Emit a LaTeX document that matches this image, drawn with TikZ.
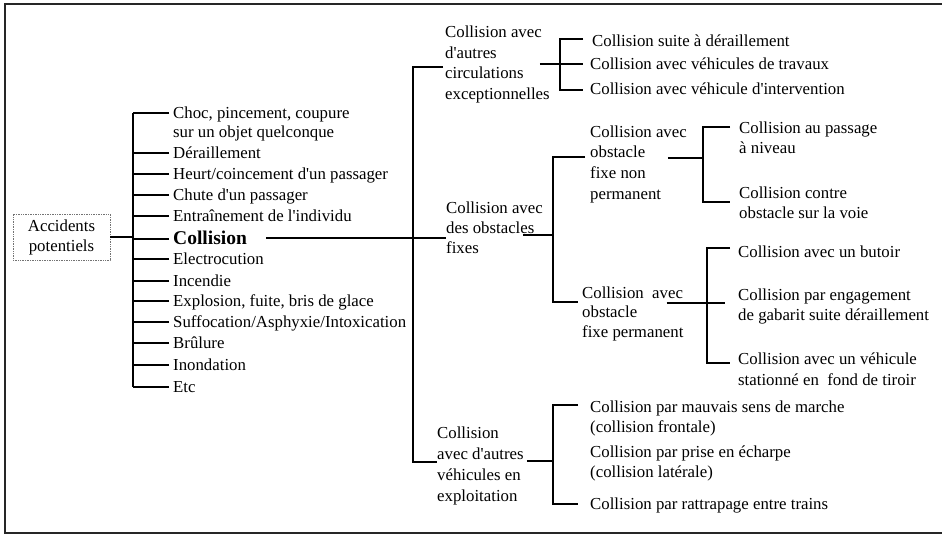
\documentclass[tikz,border=0pt]{standalone}
\usepackage{fontspec}
\setmainfont{Liberation Serif}
\newcommand{\mlines}[1]{\begin{tabular}[t]{@{}l@{}}#1\end{tabular}}
\newcommand{\ap}{\textquotesingle}
\begin{document}
\begin{tikzpicture}[x=1pt,y=-1pt,
  txt/.style={anchor=base west, inner sep=0pt, font=\fontsize{16.8}{20.5}\selectfont},
  sk/.style={font=\fontsize{16.8}{#1}\selectfont},
  tree/.style={line width=1.4pt, draw=black},
  frame/.style={line width=1.3pt, draw=black!85},
  rootbox/.style={draw=black!55, densely dotted, line width=0.7pt, inner sep=0pt,
    minimum width=97pt, minimum height=46pt, font=\fontsize{16.8}{20}\selectfont}
]
\useasboundingbox (0,0) rectangle (942,535);
\draw[frame] (960,4) -- (5,4) -- (5,533) -- (960,533);

% root
\node[rootbox] (acc) at (61.5,237) {\begin{tabular}{@{}c@{}}Accidents\\potentiels\end{tabular}};

% first level list
\node[txt, sk=19] (l1) at (173,118) {\mlines{Choc, pincement, coupure\\sur un objet quelconque}};
\node[txt] (l2) at (173,158) {Déraillement};
\node[txt] (l3) at (173,179) {Heurt/coincement d\ap un passager};
\node[txt] (l4) at (173,200) {Chute d\ap un passager};
\node[txt] (l5) at (173,221) {Entraînement de l\ap individu};
\node[txt, font=\fontsize{19.5}{22}\selectfont\bfseries] (l6) at (173,244) {Collision};
\node[txt] (l7) at (173,264) {Electrocution};
\node[txt] (l8) at (173,286) {Incendie};
\node[txt] (l9) at (173,306) {Explosion, fuite, bris de glace};
\node[txt] (l10) at (173,327) {Suffocation/Asphyxie/Intoxication};
\node[txt] (l11) at (173,348) {Brûlure};
\node[txt] (l12) at (173,370) {Inondation};
\node[txt] (l13) at (173,392) {Etc};

\foreach \i in {1,...,13}
  \draw[tree] ([xshift=-4pt,yshift=5pt]l\i.base west) -- ++(-36,0);
\coordinate (B1) at ([xshift=-40pt,yshift=5pt]l1.base west);
\draw[tree] (B1) -- ([xshift=-40pt,yshift=5pt]l13.base west);
\draw[tree] (acc.east) -- (acc.east -| B1);

% second level
\node[txt, sk=20.4] (ct) at (445,38) {\mlines{Collision avec\\d\ap autres\\circulations\\exceptionnelles}};
\node[txt, sk=20] (obs) at (446,213) {\mlines{Collision avec\\des obstacles\\fixes}};
\node[txt, sk=21.3] (cv) at (437,438) {\mlines{Collision\\avec d\ap autres\\véhicules en\\exploitation}};

\coordinate (c6) at ([yshift=6pt]l6.base east);
\draw[tree] ([xshift=19pt]c6) -- (c6 -| obs.west);
\coordinate (B2) at (413,238);
\draw[tree] ([xshift=-2pt,yshift=-29pt]ct.base west) -| (B2) |- ([yshift=-24pt]cv.base west);

% circulations exceptionnelles
\node[txt] (r1) at (592,47) {Collision suite à déraillement};
\node[txt] (r2) at (590,70) {Collision avec véhicules de travaux};
\node[txt] (r3) at (590,94) {Collision avec véhicule d\ap intervention};
\coordinate (B3) at (560,64);
\coordinate (r2t) at ([xshift=-7pt]r2.base west);
\draw[tree] ([xshift=-9pt,yshift=8pt]r1.base west) -| (B3) |- ([xshift=-7pt,yshift=4pt]r3.base west);
\draw[tree] (ct.east |- B3) ++(-10,0) -- (r2t |- B3);

% obstacles fixes
\node[txt, sk=20.7] (np) at (590,137) {\mlines{Collision avec\\obstacle\\fixe non\\permanent}};
\node[txt, sk=19.6] (pm) at (582,298) {\mlines{Collision~ avec\\obstacle\\fixe permanent}};
\coordinate (B4) at (553,235);
\draw[tree] ([xshift=-5pt,yshift=-20pt]np.base west) -| (B4) |- ([xshift=-4pt,yshift=-4pt]pm.base west);
\draw[tree] (obs.east |- B4) ++(-20,0) -- (B4);

% non permanent
\node[txt, sk=20] (np1) at (739,133) {\mlines{Collision au passage\\à niveau}};
\node[txt, sk=20] (np2) at (739,198) {\mlines{Collision contre\\obstacle sur la voie}};
\coordinate (B5) at (703,158);
\draw[tree] ([xshift=-9pt,yshift=6pt]np1.base west) -| (B5) |- ([xshift=-9pt,yshift=-4pt]np2.base west);
\draw[tree] (np.east |- B5) ++(-19,0) -- (B5);

% permanent
\node[txt] (pm1) at (738,257) {Collision avec un butoir};
\node[txt, sk=20] (pm2) at (738,300) {\mlines{Collision par engagement\\de gabarit suite déraillement}};
\node[txt, sk=21] (pm3) at (738,364) {\mlines{Collision avec un véhicule\\stationné en~ fond de tiroir}};
\coordinate (B6) at (707,303);
\coordinate (pm2t) at ([xshift=-13pt]pm2.base west);
\draw[tree] ([xshift=-8pt,yshift=9pt]pm1.base west) -| (B6) |- ([xshift=-8pt,yshift=1pt]pm3.base west);
\draw[tree] (pm.east |- B6) ++(-17,0) -- (pm2t |- B6);

% autres vehicules en exploitation
\node[txt, sk=20] (cv1) at (590,412) {\mlines{Collision par mauvais sens de marche\\(collision frontale)}};
\node[txt, sk=20] (cv2) at (590,457) {\mlines{Collision par prise en écharpe\\(collision latérale)}};
\node[txt] (cv3) at (590,509) {Collision par rattrapage entre trains};
\coordinate (B7) at (553,461);
\draw[tree] ([xshift=-12pt,yshift=7pt]cv1.base west) -| (B7) |- ([xshift=-12pt,yshift=5pt]cv3.base west);
\draw[tree] (cv.east |- B7) ++(3,0) -- (B7);
\end{tikzpicture}
\end{document}
